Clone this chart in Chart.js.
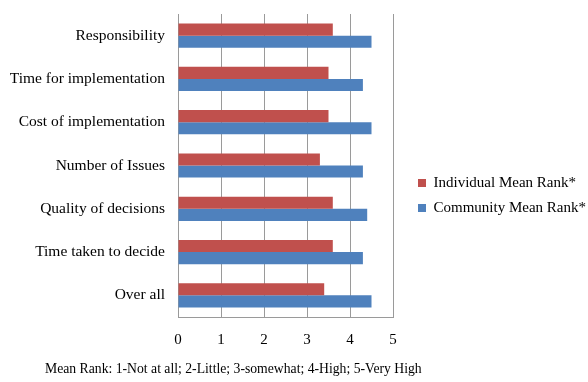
<!DOCTYPE html>
<html>
<head>
<meta charset="utf-8">
<script src="https://cdn.jsdelivr.net/npm/chart.js@4/dist/chart.umd.min.js"></script>
<style>
  html, body { margin: 0; padding: 0; background: #fff; }
  #wrap { position: relative; width: 588px; height: 382px; }
  #c { position: absolute; left: 0; top: 0; }
  #caption { position: absolute; left: 45px; top: 361px; font-family: "Liberation Serif", serif; font-size: 13.7px; line-height: 16px; color: #000; white-space: nowrap; }
</style>
</head>
<body>
<div id="wrap">
  <canvas id="c" width="588" height="382"></canvas>
  <div id="caption">Mean Rank: 1-Not at all; 2-Little; 3-somewhat; 4-High; 5-Very High</div>
</div>
<script>
const categories = ['Responsibility', 'Time for implementation', 'Cost of implementation', 'Number of Issues', 'Quality of decisions', 'Time taken to decide', 'Over all'];
const seriesNames = ['Individual Mean Rank*', 'Community Mean Rank*'];
const individualMeanRank = [3.6, 3.5, 3.5, 3.3, 3.6, 3.6, 3.4];
const communityMeanRank = [4.5, 4.3, 4.5, 4.3, 4.4, 4.3, 4.5];
const xTicks = [0, 1, 2, 3, 4, 5];

const FONT = '"Liberation Serif", "Times New Roman", serif';

const legendTweak = {
  id: 'legendTweak',
  beforeLayout(chart) {
    const lg = chart.legend;
    if (lg && !lg._tweaked) {
      const orig = lg.fit;
      lg.fit = function () { orig.call(this); this.width = 195; };
      lg._tweaked = true;
    }
  },
  afterLayout(chart) {
    const lg = chart.legend;
    if (lg) { lg.left = 418 - 10; lg.top -= 5; }
  }
};

new Chart(document.getElementById('c'), {
  type: 'bar',
  data: {
    labels: categories,
    datasets: [
      { label: seriesNames[0], data: individualMeanRank, backgroundColor: '#C0504D', borderWidth: 0 },
      { label: seriesNames[1], data: communityMeanRank, backgroundColor: '#4F81BD', borderWidth: 0 }
    ]
  },
  options: {
    indexAxis: 'y',
    responsive: false,
    animation: false,
    devicePixelRatio: 1,
    categoryPercentage: 0.56,
    barPercentage: 1.0,
    layout: { padding: { top: 14, bottom: 0, left: 0, right: 0 } },
    plugins: {
      legend: {
        position: 'right',
        labels: {
          boxWidth: 8, boxHeight: 8, padding: 10, color: '#000',
          font: { family: FONT, size: 15 }
        }
      },
      tooltip: { enabled: false }
    },
    scales: {
      x: {
        min: 0, max: 5,
        afterBuildTicks(scale) { scale.ticks = xTicks.map(v => ({ value: v })); },
        afterFit(scale) { scale.height = 65; },
        grid: { display: true, color: '#9a9a9a', drawTicks: false, lineWidth: 1 },
        border: { display: true, color: '#9a9a9a' },
        ticks: { color: '#000', padding: 14, font: { family: FONT, size: 15 } }
      },
      y: {
        afterFit(scale) { scale.width = 178; scale.paddingTop = 0; scale.paddingBottom = 0; },
        grid: { display: false, drawTicks: false },
        border: { display: true, color: '#9a9a9a' },
        ticks: { color: '#000', padding: 13, font: { family: FONT, size: 15.5 } }
      }
    }
  },
  plugins: [legendTweak]
});
</script>
</body>
</html>
